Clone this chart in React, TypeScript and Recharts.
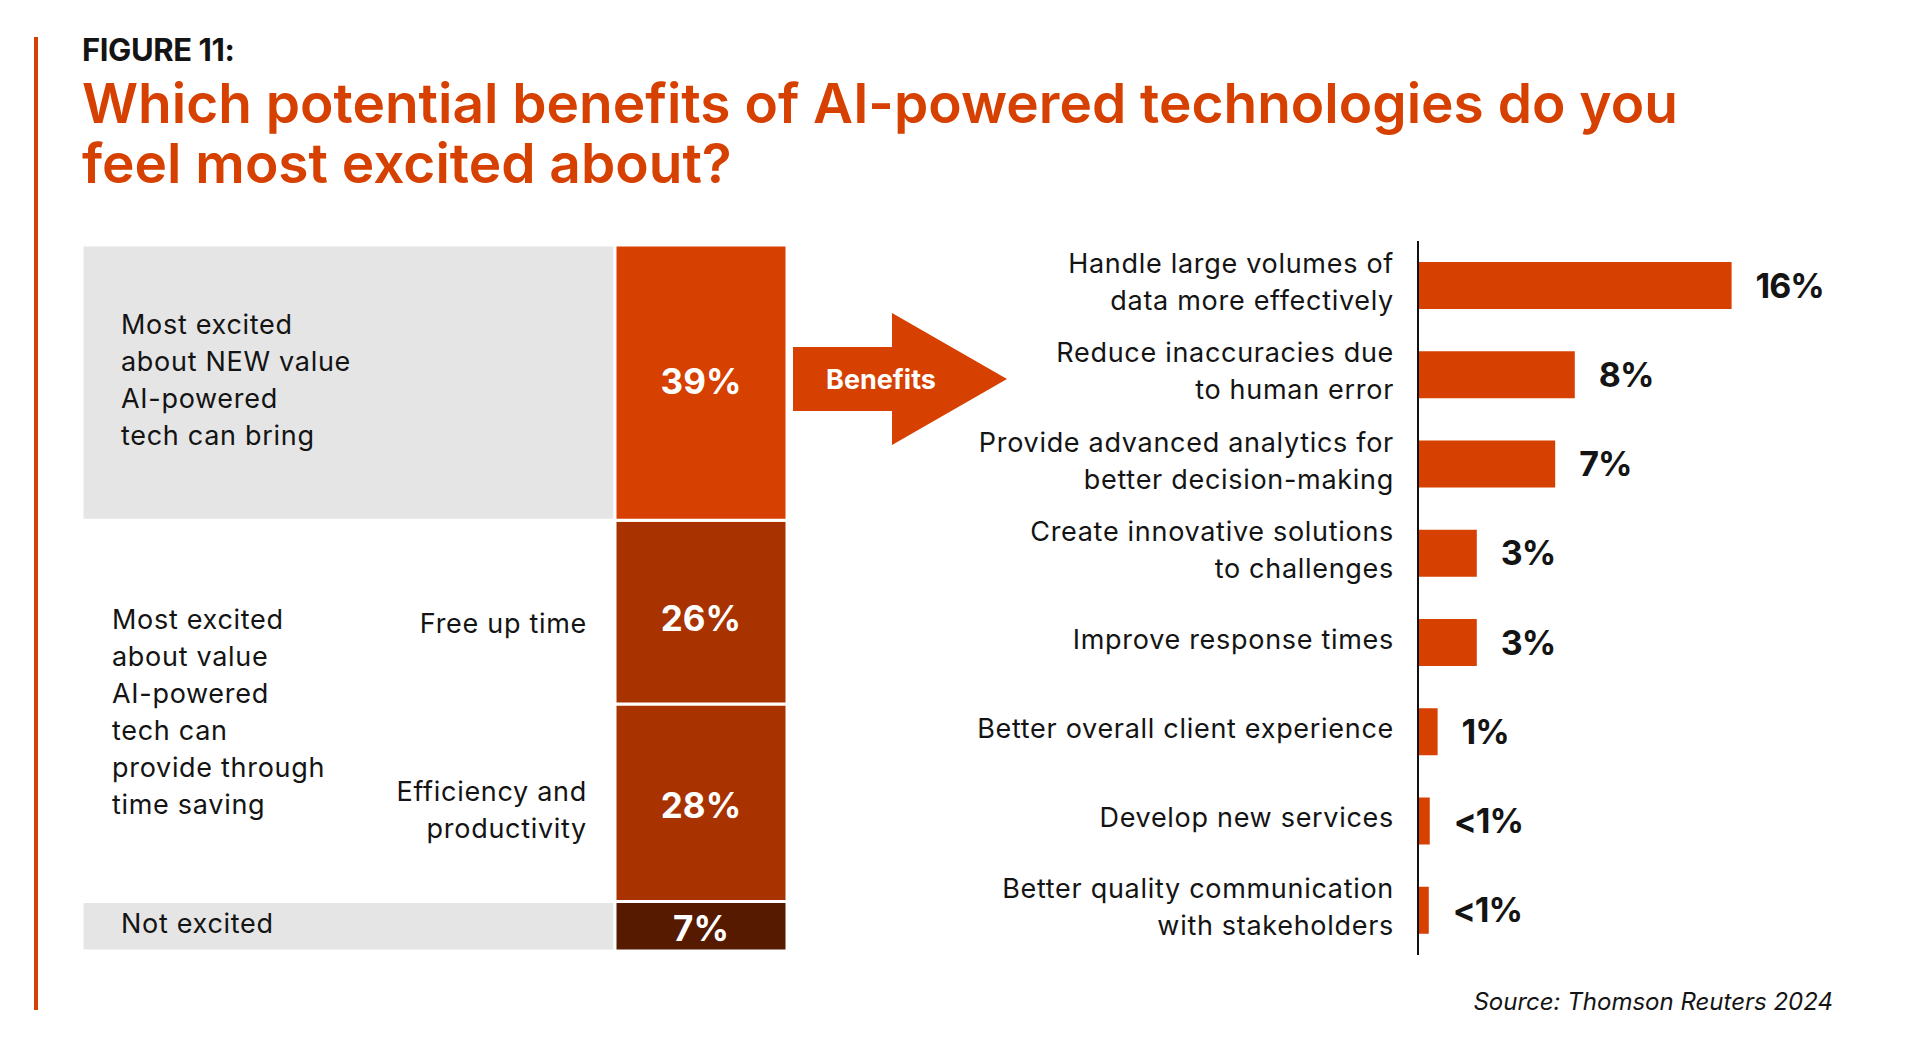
import React from "react";
import { BarChart, Bar, XAxis, YAxis, LabelList } from "recharts";

// ---------- DATA ----------
const segmentKeys = ["newValue", "freeUpTime", "efficiency", "notExcited"];
const segmentValues = [39, 26, 28, 7];
const segmentLabels = ["39%", "26%", "28%", "7%"];
const segmentSubLabels: string[][] = [[], ["Free up time"], ["Efficiency and", "productivity"], []];

const groupKeys = ["newGroup", "timeGroup", "notGroup"];
const groupMembers = [[0], [1, 2], [3]];
const groupLabels = [
  ["Most excited", "about NEW value", "AI-powered", "tech can bring"],
  ["Most excited", "about value", "AI-powered", "tech can", "provide through", "time saving"],
  ["Not excited"],
];

const benefitLines = [
  ["Handle large volumes of", "data more effectively"],
  ["Reduce inaccuracies due", "to human error"],
  ["Provide advanced analytics for", "better decision-making"],
  ["Create innovative solutions", "to challenges"],
  ["Improve response times"],
  ["Better overall client experience"],
  ["Develop new services"],
  ["Better quality communication", "with stakeholders"],
];
const benefitValues = [16, 8, 7, 3, 3, 1, 0.6, 0.55];
const benefitLabels = ["16%", "8%", "7%", "3%", "3%", "1%", "<1%", "<1%"];

const figureLabel = "FIGURE 11:";
const titleLines = ["Which potential benefits of AI-powered technologies do you", "feel most excited about?"];
const arrowLabel = "Benefits";
const sourceText = "Source: Thomson Reuters 2024";

// ---------- STYLE ----------
const FONT = "Inter, 'Noto Sans', sans-serif";
const ORANGE = "#D64000";
const DARK = "#A83200";
const DARKEST = "#561A00";
const GRAY = "#E5E5E5";
const INK = "#141414";
const LABEL_SIZE = 27;
const LABEL_SPACING = 0.7;
const segmentFills = [ORANGE, DARK, DARK, DARKEST];
const groupFills = [GRAY, "none", GRAY];
const groupIndent = [39, 30, 39];

// ---------- derived tables ----------
const leftRow: Record<string, any> = { name: "Respondents" };
segmentKeys.forEach((k, i) => (leftRow[k] = segmentValues[i]));
groupKeys.forEach(
  (k, i) => (leftRow[k] = groupMembers[i].reduce((s, j) => s + segmentValues[j], 0))
);
const leftData = [leftRow];

const benefitData = benefitLines.map((lines, i) => ({
  name: lines.join(" "),
  value: benefitValues[i],
  label: benefitLabels[i],
}));

const rectOf = (p: any) => {
  const vb = p.viewBox || {};
  const x = vb.x ?? p.x;
  const y = vb.y ?? p.y;
  const w = vb.width ?? p.width;
  const h = vb.height ?? p.height;
  return { x: Math.min(x, x + w), y: Math.min(y, y + h), w: Math.abs(w), h: Math.abs(h) };
};

const makeGroupLabel = (gi: number) => (p: any) => {
  const r = rectOf(p);
  const lines = groupLabels[gi];
  const cy = r.y + r.h / 2;
  const x = r.x + groupIndent[gi];
  const k = gi === 1 ? 11 : 7;
  return (
    <text fontFamily={FONT} fontSize={LABEL_SIZE} letterSpacing={LABEL_SPACING} fill={INK}>
      {lines.map((l, i) => (
        <tspan key={i} x={x} y={cy + k + (i - (lines.length - 1) / 2) * 37}>
          {l}
        </tspan>
      ))}
    </text>
  );
};

const makeSegLabel = (si: number) => (p: any) => {
  const r = rectOf(p);
  const cx = r.x + r.w / 2;
  const cy = r.y + r.h / 2;
  const subs = segmentSubLabels[si];
  const k = si === 0 ? 11 : si === 1 ? 19 : 15;
  return (
    <g>
      <text
        x={cx}
        y={cy + k}
        textAnchor="middle"
        fontFamily={FONT}
        fontWeight={700}
        fontSize={35}
        fill="#fff"
      >
        {segmentLabels[si]}
      </text>
      {subs.length > 0 && (
        <text
          fontFamily={FONT}
          fontSize={LABEL_SIZE}
          letterSpacing={LABEL_SPACING}
          fill={INK}
          textAnchor="end"
        >
          {subs.map((l, i) => (
            <tspan key={i} x={r.x - 28} y={cy + k + 2 + (i - (subs.length - 1) / 2) * 37}>
              {l}
            </tspan>
          ))}
        </text>
      )}
    </g>
  );
};

const BenefitTick = (p: any) => {
  const idx = benefitData.findIndex((d) => d.name === p.payload?.value);
  const lines = idx >= 0 ? benefitLines[idx] : [String(p.payload?.value ?? "")];
  return (
    <text
      fontFamily={FONT}
      fontSize={LABEL_SIZE}
      letterSpacing={LABEL_SPACING}
      fill={INK}
      textAnchor="end"
    >
      {lines.map((l, i) => (
        <tspan key={i} x={p.x} y={p.y + 6 + (i - (lines.length - 1) / 2) * 37}>
          {l}
        </tspan>
      ))}
    </text>
  );
};

const valueLabel = (p: any) => {
  const r = rectOf(p);
  return (
    <text
      x={r.x + r.w + 24}
      y={r.y + r.h / 2 + 12}
      fontFamily={FONT}
      fontWeight={700}
      fontSize={34}
      letterSpacing={-1}
      fill={INK}
    >
      {p.value}
    </text>
  );
};

export default function App() {
  const groupOrder = [2, 1, 0];
  const segOrder = [3, 2, 1, 0];
  return (
    <div
      style={{
        position: "absolute",
        left: 0,
        top: 0,
        width: 1920,
        height: 1059,
        overflow: "hidden",
        background: "#fff",
        fontFamily: FONT,
      }}
    >
      <svg width={1920} height={1059} style={{ position: "absolute", left: 0, top: 0 }}>
        <rect x={34} y={37} width={4} height={973} fill={ORANGE} />
        <text x={82} y={61} fontFamily={FONT} fontWeight={700} fontSize={31} letterSpacing={-0.4} fill={INK}>
          {figureLabel}
        </text>
        {titleLines.map((t, i) => (
          <text
            key={i}
            x={82}
            y={122.7 + i * 60.6}
            fontFamily={FONT}
            fontWeight={600}
            fontSize={55}
            letterSpacing={0}
            fill={ORANGE}
          >
            {t}
          </text>
        ))}
        <polygon
          points="793,347 892,347 892,313 1007,379 892,445 892,411 793,411"
          fill={ORANGE}
        />
        <text x={881} y={389} textAnchor="middle" fontFamily={FONT} fontWeight={700} fontSize={27} fill="#fff">
          {arrowLabel}
        </text>
        <text x={1833} y={1010} textAnchor="end" fontFamily={FONT} fontStyle="italic" fontSize={24} fill={INK}>
          {sourceText}
        </text>
      </svg>

      <div style={{ position: "absolute", left: 60, top: 230 }}>
        <BarChart
          width={760}
          height={740}
          data={leftData}
          margin={{ top: 15, right: 32, bottom: 19, left: 21 }}
          barGap={0}
          barCategoryGap={0}
        >
          <XAxis dataKey="name" type="category" hide />
          <YAxis type="number" domain={[0, 100]} hide />
          {groupOrder.map((gi) => (
            <Bar
              key={groupKeys[gi]}
              dataKey={groupKeys[gi]}
              stackId="g"
              barSize={533}
              fill={groupFills[gi]}
              stroke={groupFills[gi] === "none" ? "none" : "#fff"}
              strokeWidth={3}
              isAnimationActive={false}
            >
              <LabelList dataKey={groupKeys[gi]} content={makeGroupLabel(gi)} />
            </Bar>
          ))}
          {segOrder.map((si) => (
            <Bar
              key={segmentKeys[si]}
              dataKey={segmentKeys[si]}
              stackId="c"
              barSize={172}
              fill={segmentFills[si]}
              stroke="#fff"
              strokeWidth={3}
              isAnimationActive={false}
            >
              <LabelList dataKey={segmentKeys[si]} content={makeSegLabel(si)} />
            </Bar>
          ))}
        </BarChart>
      </div>

      <div style={{ position: "absolute", left: 900, top: 230 }}>
        <BarChart
          width={1000}
          height={740}
          data={benefitData}
          layout="vertical"
          margin={{ top: 11, right: 90, bottom: 15, left: 0 }}
        >
          <XAxis type="number" domain={[0, 20]} hide />
          <YAxis
            type="category"
            dataKey="name"
            width={518}
            axisLine={{ stroke: "#111", strokeWidth: 2 }}
            tickLine={false}
            tickSize={0}
            tickMargin={24}
            tick={BenefitTick}
            interval={0}
          />
          <Bar dataKey="value" fill={ORANGE} barSize={47} isAnimationActive={false}>
            <LabelList dataKey="label" content={valueLabel} />
          </Bar>
        </BarChart>
      </div>
    </div>
  );
}
